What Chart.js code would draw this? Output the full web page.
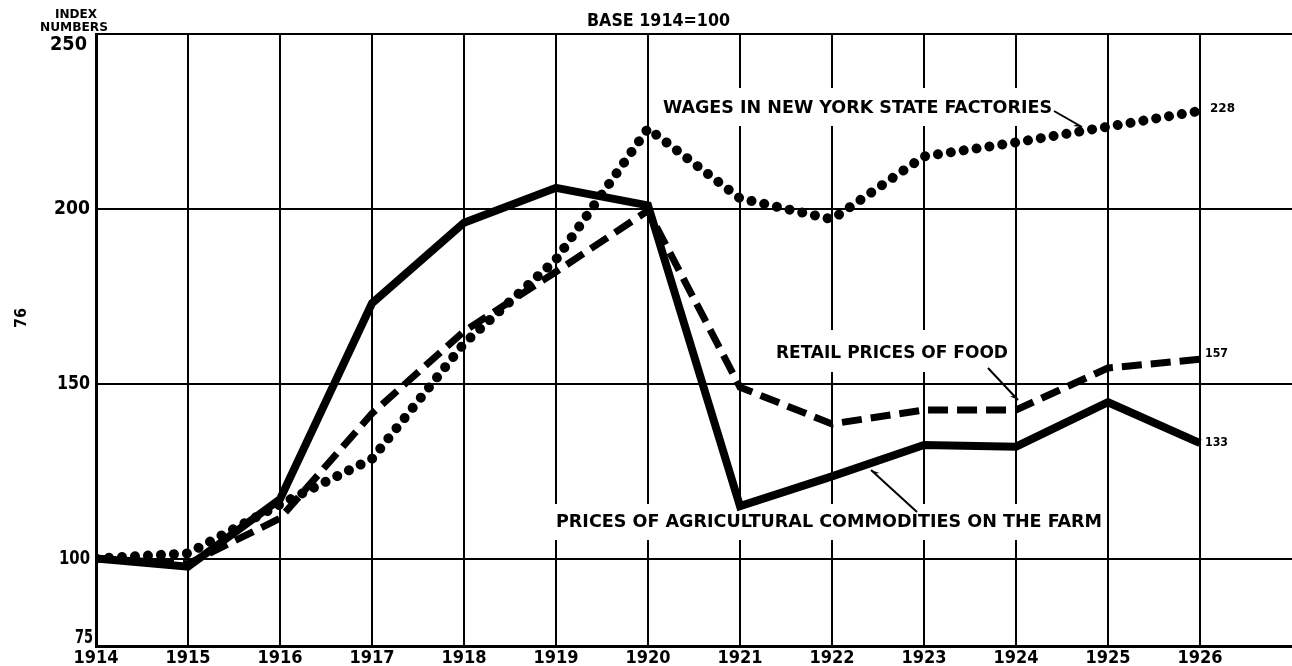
<!DOCTYPE html>
<html>
<head>
<meta charset="utf-8">
<script src="https://cdn.jsdelivr.net/npm/chart.js@4.4.1/dist/chart.umd.min.js"></script>
<style>
  html, body { margin: 0; padding: 0; background: #fff; }
  #wrap { width: 1292px; height: 666px; }
</style>
</head>
<body>
<div id="wrap"><canvas id="chart" width="1292" height="666"></canvas></div>
<script>
// Index numbers, base 1914 = 100
const years = [1914, 1915, 1916, 1917, 1918, 1919, 1920, 1921, 1922, 1923, 1924, 1925, 1926];
const farmPrices = [100, 97.7, 117, 173, 196, 206, 201, 115, 123.5, 132.5, 132, 144.7, 133];
const foodPrices = [100, 98.5, 111.5, 141.5, 165, 182, 199.5, 149, 138.5, 142.5, 142.5, 154.5, 157];
const wages = [100, 101.5, 115.5, 128.5, 161.5, 185.5, 223, 203, 197, 215, 219, 223.5, 228];
const yTicks = [75, 100, 150, 200, 250];

const FONT = '"Liberation Sans Narrow", "DejaVu Sans Condensed", sans-serif';

function toPoints(values) {
  return years.map((y, i) => ({ x: y, y: values[i] }));
}

// draw bold lettering stretched to the width it has in the original
function fitText(ctx, text, left, right, y, size) {
  ctx.save();
  ctx.font = 'bold ' + size + 'px ' + FONT;
  ctx.textBaseline = 'middle';
  ctx.textAlign = 'left';
  ctx.fillStyle = '#000';
  const w = ctx.measureText(text).width;
  ctx.translate(left, y);
  ctx.scale((right - left) / w, 1);
  ctx.fillText(text, 0, 0);
  ctx.restore();
}

function arrow(ctx, x1, y1, x2, y2) {
  ctx.save();
  ctx.strokeStyle = '#000';
  ctx.fillStyle = '#000';
  ctx.lineWidth = 2;
  ctx.beginPath();
  ctx.moveTo(x1, y1);
  ctx.lineTo(x2, y2);
  ctx.stroke();
  const a = Math.atan2(y2 - y1, x2 - x1);
  const len = 9;
  ctx.beginPath();
  ctx.moveTo(x2, y2);
  ctx.lineTo(x2 - len * Math.cos(a - 0.4), y2 - len * Math.sin(a - 0.4));
  ctx.lineTo(x2 - len * 0.6 * Math.cos(a), y2 - len * 0.6 * Math.sin(a));
  ctx.closePath();
  ctx.fill();
  ctx.restore();
}

const labelsPlugin = {
  id: 'labels',
  beforeDatasetsDraw(chart) {
    const ctx = chart.ctx;
    ctx.save();
    ctx.fillStyle = '#fff';
    // white patches behind the lettering inside the grid
    ctx.fillRect(652, 88, 404, 38);
    ctx.fillRect(770, 330, 240, 42);
    ctx.fillRect(553, 504, 552, 36);
    ctx.restore();
  },
  afterDatasetsDraw(chart) {
    const ctx = chart.ctx;
    const ys = chart.scales.y;

    // y-axis numbers
    const yLab = {
      250: { w: 37, dy: 11, r: 87 },
      200: { w: 36, dy: 0, r: 90 },
      150: { w: 33, dy: 0, r: 90 },
      100: { w: 31, dy: 0, r: 90 },
      75: { w: 18, dy: -8, r: 93 }
    };
    yTicks.forEach(v => {
      const o = yLab[v];
      fitText(ctx, String(v), o.r - o.w, o.r, ys.getPixelForValue(v) + o.dy, 19);
    });

    fitText(ctx, 'INDEX', 55, 97, 15, 13);
    fitText(ctx, 'NUMBERS', 40, 108, 28, 13);
    fitText(ctx, 'BASE 1914=100', 587, 730, 22, 17);

    fitText(ctx, 'WAGES IN NEW YORK STATE FACTORIES', 663, 1052, 108, 18);
    arrow(ctx, 1054, 111, 1082, 127);

    fitText(ctx, 'RETAIL PRICES OF FOOD', 776, 1008, 353, 18);
    arrow(ctx, 988, 368, 1018, 400);

    fitText(ctx, 'PRICES OF AGRICULTURAL COMMODITIES ON THE FARM', 556, 1102, 522, 18);
    arrow(ctx, 917, 512, 871, 470);

    // end values
    fitText(ctx, '228', 1210, 1235, 109, 13);
    fitText(ctx, '157', 1205, 1228, 354, 13);
    fitText(ctx, '133', 1205, 1228, 443, 13);

    // page number, printed sideways
    ctx.save();
    ctx.translate(22, 318);
    ctx.rotate(-Math.PI / 2);
    ctx.font = 'bold 16px ' + FONT;
    ctx.textAlign = 'center';
    ctx.textBaseline = 'middle';
    ctx.fillStyle = '#000';
    ctx.fillText('76', 0, 0);
    ctx.restore();
  }
};

const ctx = document.getElementById('chart').getContext('2d');
new Chart(ctx, {
  type: 'line',
  data: {
    datasets: [
      {
        label: 'Prices of agricultural commodities on the farm',
        data: toPoints(farmPrices),
        borderColor: '#000',
        borderWidth: 8,
        borderJoinStyle: 'miter',
        pointRadius: 0,
        tension: 0
      },
      {
        label: 'Retail prices of food',
        data: toPoints(foodPrices),
        borderColor: '#000',
        borderWidth: 7,
        borderDash: [20, 9],
        pointRadius: 0,
        tension: 0
      },
      {
        label: 'Wages in New York State factories',
        data: toPoints(wages),
        borderColor: '#000',
        borderWidth: 10,
        borderDash: [0.01, 13],
        borderCapStyle: 'round',
        borderJoinStyle: 'round',
        pointRadius: 0,
        tension: 0
      }
    ]
  },
  options: {
    responsive: false,
    animation: false,
    devicePixelRatio: 1,
    layout: { padding: { top: 34, right: 0, left: 0, bottom: 0 } },
    plugins: {
      legend: { display: false },
      tooltip: { enabled: false }
    },
    scales: {
      x: {
        type: 'linear',
        min: 1914,
        max: 1927,
        afterBuildTicks: s => { s.ticks = years.map(v => ({ value: v })); },
        afterFit: s => { s.height = 20; },
        ticks: {
          autoSkip: false,
          maxRotation: 0,
          padding: 2,
          color: '#000',
          font: { family: FONT, size: 18, weight: 'bold' },
          callback: v => String(v)
        },
        grid: { color: '#000', lineWidth: 2, drawTicks: false },
        border: { color: '#000', width: 3 }
      },
      y: {
        min: 75,
        max: 250,
        afterBuildTicks: s => { s.ticks = yTicks.map(v => ({ value: v })); },
        afterFit: s => { s.width = 96; },
        ticks: { display: false },
        grid: { color: '#000', lineWidth: 2, drawTicks: false },
        border: { color: '#000', width: 3 }
      }
    }
  },
  plugins: [labelsPlugin]
});
</script>
</body>
</html>
